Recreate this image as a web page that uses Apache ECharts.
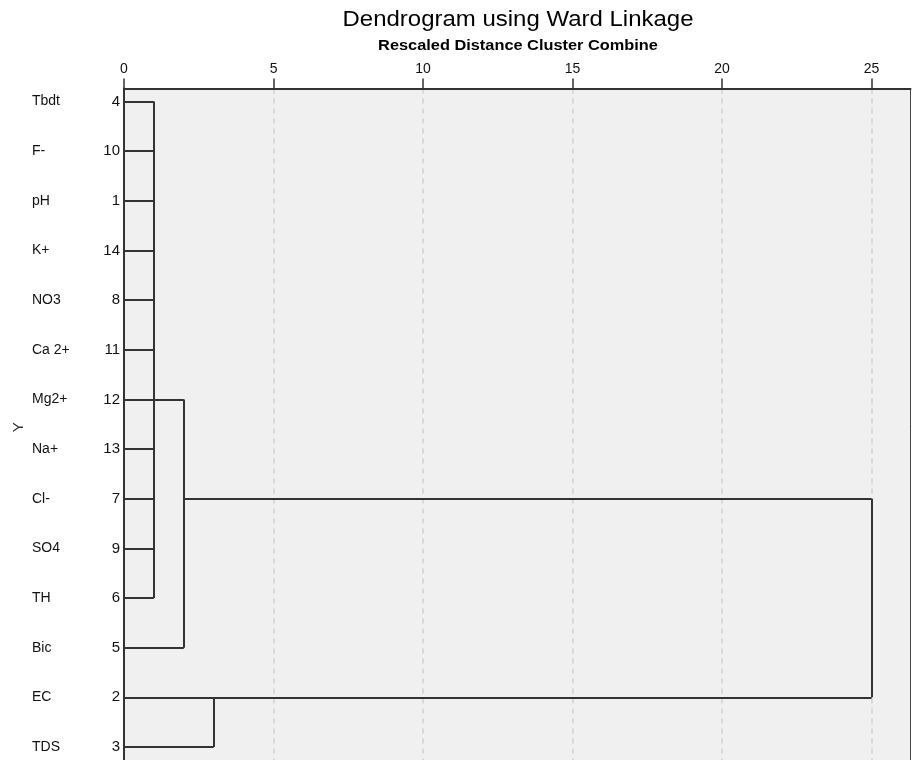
<!DOCTYPE html>
<html>
<head>
<meta charset="utf-8">
<script src="https://cdn.jsdelivr.net/npm/echarts@6/dist/echarts.min.js"></script>
<style>html,body{margin:0;padding:0;background:#fff;}#chart{width:913px;height:760px;}</style>
</head>
<body>
<div id="chart"></div>
<script>
// Leaf variables in dendrogram order (top to bottom)
const labels = ['Tbdt', 'F-', 'pH', 'K+', 'NO3', 'Ca 2+', 'Mg2+', 'Na+', 'Cl-', 'SO4', 'TH', 'Bic', 'EC', 'TDS'];
const caseNumbers = [4, 10, 1, 14, 8, 11, 12, 13, 7, 9, 6, 5, 2, 3];
// Merges: rescaled distance, row where the merged cluster is drawn, children
// (numbers = leaf rows, 'cK' = result of merge K)
const mergeHeights = [1, 2, 3, 25];
const mergeRows = [6, 8, 12, 8];
const mergeChildren = [
  [0, 1, 2, 3, 4, 5, 6, 7, 8, 9, 10],
  ['c0', 11],
  [12, 13],
  ['c1', 'c2']
];
const xMin = 0, xMax = 26.3, xInterval = 5;

function resolve(child) {
  if (typeof child === 'string') {
    const k = parseInt(child.slice(1), 10);
    return { row: mergeRows[k], h: mergeHeights[k] };
  }
  return { row: child, h: 0 };
}
const segs = [];
mergeChildren.forEach(function (children, k) {
  const H = mergeHeights[k];
  let rMin = Infinity, rMax = -Infinity;
  children.forEach(function (c) {
    const n = resolve(c);
    segs.push({ coords: [[n.h, n.row], [H, n.row]] });
    rMin = Math.min(rMin, n.row);
    rMax = Math.max(rMax, n.row);
  });
  segs.push({ coords: [[H, rMin], [H, rMax]] });
});

const rowValues = labels.map(function (_, i) { return i; });
const yMin = -0.262, yMax = 13.383;
const font = 'Liberation Sans, Arial, sans-serif';

const chart = echarts.init(document.getElementById('chart'));
chart.setOption({
  animation: false,
  backgroundColor: '#ffffff',
  graphic: [
    { type: 'text', x: 518, y: 9, scaleX: 1.09, originX: 0,
      style: { text: 'Dendrogram using Ward Linkage', font: '22px ' + font, fill: '#000', textAlign: 'center', textVerticalAlign: 'top' } },
    { type: 'text', x: 518, y: 38.5, scaleX: 1.09, originX: 0,
      style: { text: 'Rescaled Distance Cluster Combine', font: 'bold 15px ' + font, fill: '#000', textAlign: 'center', textVerticalAlign: 'top' } }
  ],
  grid: {
    left: 124, right: 2.5, top: 88.5, height: 677.5,
    outerBoundsMode: 'none', containLabel: false,
    show: true, backgroundColor: '#f0f0f0', borderColor: '#444', borderWidth: 1
  },
  xAxis: {
    type: 'value', position: 'top', min: xMin, max: xMax, interval: xInterval,
    axisLine: { show: true, onZero: false, lineStyle: { color: '#333', width: 2 } },
    axisTick: { show: true, length: 10, lineStyle: { color: '#333', width: 1.5 } },
    axisLabel: { fontSize: 14, fontFamily: font, color: '#111', margin: 12, showMaxLabel: false,
      formatter: function (v) { return v % xInterval === 0 ? String(v) : ''; } },
    splitLine: { show: true, showMinLine: false, showMaxLine: false, lineStyle: { color: '#d0d0d0', width: 1.5, type: [5, 5] } }
  },
  yAxis: [
    {
      type: 'value', inverse: true, min: yMin, max: yMax, position: 'left',
      name: 'Y', nameLocation: 'middle', nameGap: 98,
      nameTextStyle: { fontSize: 15, fontFamily: font, color: '#333' },
      axisLine: { show: true, onZero: false, lineStyle: { color: '#333', width: 2 } },
      axisTick: { show: false },
      splitLine: { show: false },
      axisLabel: {
        customValues: rowValues, margin: 4, fontSize: 15, fontFamily: font, color: '#111',
        formatter: function (v) { return String(caseNumbers[Math.round(v)]); }
      }
    },
    {
      type: 'value', inverse: true, min: yMin, max: yMax, position: 'left',
      axisLine: { show: false }, axisTick: { show: false }, splitLine: { show: false },
      axisLabel: {
        customValues: rowValues, margin: 92, align: 'left', fontSize: 14, fontFamily: font, color: '#111',
        formatter: function (v) { return labels[Math.round(v)]; }
      }
    }
  ],
  series: [{
    type: 'lines', coordinateSystem: 'cartesian2d', xAxisIndex: 0, yAxisIndex: 0,
    polyline: false, silent: true, z: 5,
    lineStyle: { color: '#333', width: 2, opacity: 1 },
    data: segs
  }]
});
</script>
</body>
</html>
